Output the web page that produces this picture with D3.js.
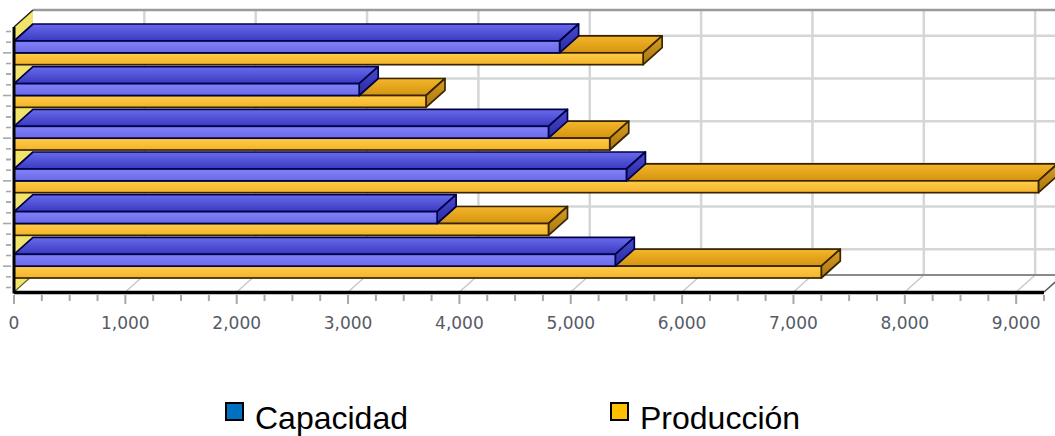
<!DOCTYPE html>
<html>
<head>
<meta charset="utf-8">
<script src="https://cdn.jsdelivr.net/npm/d3@7"></script>
<style>
  html, body { margin: 0; padding: 0; background: #ffffff; }
  svg { display: block; }
</style>
</head>
<body>
<svg id="chart" width="1055" height="436"></svg>
<script>
// ---- data ----
const categories = [1, 2, 3, 4, 5, 6];
const seriesNames = ["Capacidad", "Producción"];
const capacidad = [4900, 3100, 4800, 5500, 3800, 5400];
const produccion = [5650, 3700, 5350, 9200, 4800, 7250];
const xTickValues = [0, 1000, 2000, 3000, 4000, 5000, 6000, 7000, 8000, 9000];
const xMax = 9250;

// ---- layout ----
const W = 1055, H = 436;
const plotLeft = 14, plotRight = 1044;     // front plane, horizontal extent
const plotTop = 27, plotBottom = 292;      // front plane, vertical extent
const DX = 19, DY = 17;                    // depth projection offset

const svg = d3.select("#chart");
const defs = svg.append("defs");

const x = d3.scaleLinear().domain([0, xMax]).range([plotLeft, plotRight]);
const y = d3.scaleBand().domain(categories).range([plotTop, plotBottom])
  .paddingInner(0.445).paddingOuter(0.328);
const ySub = d3.scaleBand().domain(seriesNames).range([0, y.bandwidth()]);

// face shading for each series
const styles = {
  "Capacidad": {
    front: ["#8282f6", "#6a6ae8"], top: ["#6a6aec", "#3a3ac0"], end: ["#4a4ad0", "#2a2aa0"],
    stroke: "#00004a", legend: "#0070c0"
  },
  "Producción": {
    front: ["#ffcc48", "#f2b42a"], top: ["#f4b62a", "#d49410"], end: ["#d8a024", "#a87410"],
    stroke: "#3a2400", legend: "#ffc000"
  }
};

function vGrad(id, c0, c1) {
  const g = defs.append("linearGradient").attr("id", id)
    .attr("x1", 0).attr("y1", 0).attr("x2", 0).attr("y2", 1);
  g.append("stop").attr("offset", "0%").attr("stop-color", c0);
  g.append("stop").attr("offset", "100%").attr("stop-color", c1);
}
seriesNames.forEach((s, i) => {
  vGrad("front" + i, ...styles[s].front);
  vGrad("top" + i, ...styles[s].top);
  vGrad("end" + i, ...styles[s].end);
});

const poly = pts => pts.map(p => p.join(",")).join(" ");

// ---- walls and floor ----
svg.append("polygon")
  .attr("points", poly([[plotLeft + DX, plotTop - DY], [plotRight + DX, plotTop - DY],
                        [plotRight + DX, plotBottom - DY], [plotLeft + DX, plotBottom - DY]]))
  .attr("fill", "#ffffff");

svg.append("polygon")
  .attr("points", poly([[plotLeft, plotBottom], [plotRight, plotBottom],
                        [plotRight + DX, plotBottom - DY], [plotLeft + DX, plotBottom - DY]]))
  .attr("fill", "#ffffff");

// back wall vertical gridlines
svg.append("g").selectAll("line").data(xTickValues.slice(1)).join("line")
  .attr("x1", d => x(d) + DX).attr("x2", d => x(d) + DX)
  .attr("y1", plotTop - DY).attr("y2", plotBottom - DY)
  .attr("stroke", "#d6d6d6").attr("stroke-width", 2.5);

// back wall horizontal gridlines at category ticks
svg.append("g").selectAll("line").data(categories).join("line")
  .attr("x1", plotLeft + DX).attr("x2", plotRight + DX)
  .attr("y1", d => y(d) + y.bandwidth() / 2 - DY)
  .attr("y2", d => y(d) + y.bandwidth() / 2 - DY)
  .attr("stroke", "#d6d6d6").attr("stroke-width", 2.5);

// floor gridlines
svg.append("g").selectAll("line").data(xTickValues.slice(1)).join("line")
  .attr("x1", d => x(d)).attr("x2", d => x(d) + DX)
  .attr("y1", plotBottom).attr("y2", plotBottom - DY)
  .attr("stroke", "#c8c8c8").attr("stroke-width", 1.5);

// floor back edge and right edge
svg.append("line").attr("x1", plotLeft + DX).attr("x2", plotRight + DX)
  .attr("y1", plotBottom - DY).attr("y2", plotBottom - DY)
  .attr("stroke", "#8a8a8a").attr("stroke-width", 2);
svg.append("line").attr("x1", plotRight).attr("x2", plotRight + DX)
  .attr("y1", plotBottom).attr("y2", plotBottom - DY)
  .attr("stroke", "#555").attr("stroke-width", 1.5);

// back wall top edge
svg.append("line").attr("x1", plotLeft + DX).attr("x2", W)
  .attr("y1", plotTop - DY).attr("y2", plotTop - DY)
  .attr("stroke", "#9a9a9a").attr("stroke-width", 2.5);

// side wall
svg.append("polygon")
  .attr("points", poly([[plotLeft, plotTop], [plotLeft + DX, plotTop - DY],
                        [plotLeft + DX, plotBottom - DY], [plotLeft, plotBottom]]))
  .attr("fill", "#f0e46a");
svg.append("line").attr("x1", plotLeft).attr("y1", plotTop)
  .attr("x2", plotLeft + DX).attr("y2", plotTop - DY)
  .attr("stroke", "#222").attr("stroke-width", 1.5);
// edge where the side wall meets the floor
svg.append("line").attr("x1", plotLeft).attr("y1", plotBottom)
  .attr("x2", plotLeft + DX).attr("y2", plotBottom - DY)
  .attr("stroke", "#6a6230").attr("stroke-width", 1.2);

// ---- bars ----
const rows = [];
categories.forEach((c, ci) => {
  rows.push({ cat: c, s: "Capacidad", si: 0, v: capacidad[ci] });
  rows.push({ cat: c, s: "Producción", si: 1, v: produccion[ci] });
});
// paint from the lowest bar upward so upper bars cover the top faces below them
rows.sort((a, b) => (y(b.cat) + ySub(b.s)) - (y(a.cat) + ySub(a.s)));

const bars = svg.append("g").selectAll("g").data(rows).join("g");
bars.each(function (d) {
  const g = d3.select(this);
  const yt = y(d.cat) + ySub(d.s);
  const h = ySub.bandwidth();
  const x0 = x(0), x1 = x(d.v);
  const st = styles[d.s].stroke;
  g.append("polygon")
    .attr("points", poly([[x0, yt], [x1, yt], [x1 + DX, yt - DY], [x0 + DX, yt - DY]]))
    .attr("fill", `url(#top${d.si})`).attr("stroke", st).attr("stroke-width", 1.7)
    .attr("stroke-linejoin", "round");
  g.append("polygon")
    .attr("points", poly([[x1, yt], [x1 + DX, yt - DY], [x1 + DX, yt + h - DY], [x1, yt + h]]))
    .attr("fill", `url(#end${d.si})`).attr("stroke", st).attr("stroke-width", 1.7)
    .attr("stroke-linejoin", "round");
  g.append("rect")
    .attr("x", x0).attr("y", yt).attr("width", x1 - x0).attr("height", h)
    .attr("fill", `url(#front${d.si})`).attr("stroke", st).attr("stroke-width", 1.7);
});

// ---- axes ----
// category tick marks
const step = y.step();
const catTicks = [];
categories.forEach(c => {
  const cy = y(c) + y.bandwidth() / 2;
  [-2, -1, 0, 1, 2].forEach(k => catTicks.push({ y: cy + k * step / 4, major: k === 0 }));
});
svg.append("g").selectAll("line").data(catTicks).join("line")
  .attr("x1", d => d.major ? 3 : 6).attr("x2", 11)
  .attr("y1", d => d.y).attr("y2", d => d.y)
  .attr("stroke", "#a8a8a8").attr("stroke-width", 1.6);

svg.append("line").attr("x1", plotLeft).attr("x2", plotLeft)
  .attr("y1", plotTop).attr("y2", plotBottom + 1.5)
  .attr("stroke", "#000").attr("stroke-width", 3);
svg.append("line").attr("x1", plotLeft).attr("x2", plotRight)
  .attr("y1", plotBottom + 0.5).attr("y2", plotBottom + 0.5)
  .attr("stroke", "#000").attr("stroke-width", 3.5);

// value ticks every 250, longer at labelled values
const valueTicks = d3.range(0, xMax + 1, 250);
svg.append("g").selectAll("line").data(valueTicks).join("line")
  .attr("x1", d => x(d)).attr("x2", d => x(d))
  .attr("y1", plotBottom + 3).attr("y2", d => d % 1000 === 0 ? plotBottom + 12 : plotBottom + 9)
  .attr("stroke", "#a8a8a8").attr("stroke-width", 2);

const fmt = d3.format(",");
svg.append("g").selectAll("text").data(xTickValues).join("text")
  .attr("x", d => x(d)).attr("y", 329)
  .attr("text-anchor", "middle")
  .attr("font-family", "DejaVu Sans, Verdana, sans-serif")
  .attr("font-size", 17)
  .attr("fill", "#555b66")
  .text(d => fmt(d));

// ---- legend ----
const legendX = [226, 611];
const legend = svg.append("g").selectAll("g").data(seriesNames).join("g")
  .attr("transform", (d, i) => `translate(${legendX[i]},0)`);
legend.append("rect")
  .attr("x", 0).attr("y", 403).attr("width", 17).attr("height", 17)
  .attr("fill", d => styles[d].legend).attr("stroke", "#000").attr("stroke-width", 2);
legend.append("text")
  .attr("x", 29).attr("y", 429)
  .attr("font-family", "Liberation Sans, Arial, sans-serif")
  .attr("font-size", 32)
  .attr("fill", "#000")
  .text(d => d);
</script>
</body>
</html>
